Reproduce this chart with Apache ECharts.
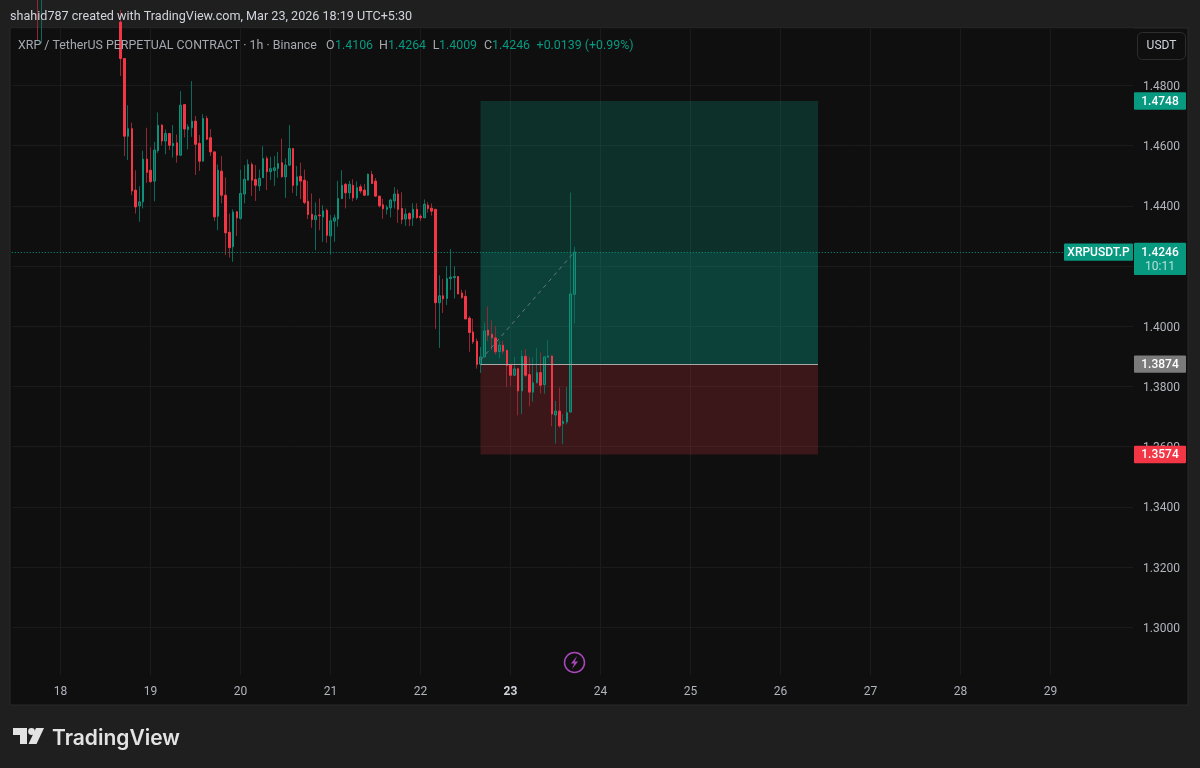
<!DOCTYPE html>
<html>
<head>
<meta charset="utf-8">
<title>XRPUSDT.P</title>
<script src="https://cdn.jsdelivr.net/npm/echarts@6/dist/echarts.min.js"></script>
<style>
  html, body { margin: 0; padding: 0; background: #1f1f1f; }
  #chart { width: 1200px; height: 768px; }
</style>
</head>
<body>
<div id="chart"></div>
<script>
// hourly candles, first two only poke in from above the visible range
var opens = [1.5100, 1.5050,
  null, null, null, null, null, null, null, null, null, null, null, null, null, null, null, null, null, null, null, null,
  1.5010, 1.4889, 1.4631, 1.4656, 1.4452, 1.4400, 1.4413, 1.4555, 1.4518, 1.4482, 1.4583, 1.4668, 1.4615, 1.4640, 1.4599, 1.4609,
  1.4568, 1.4736, 1.4653, 1.4659, 1.4681, 1.4607, 1.4548, 1.4690, 1.4626, 1.4579, 1.4365, 1.4515, 1.4435, 1.4312, 1.4264, 1.4380,
  1.4358, 1.4439, 1.4485, 1.4537, 1.4487, 1.4466, 1.4493, 1.4557, 1.4513, 1.4517, 1.4524, 1.4543, 1.4496, 1.4535, 1.4590, 1.4468,
  1.4498, 1.4485, 1.4415, 1.4372, 1.4354, 1.4369, 1.4363, 1.4385, 1.4300, 1.4349, 1.4356, 1.4424, 1.4471, 1.4443, 1.4468, 1.4426,
  1.4463, 1.4452, 1.4435, 1.4504, 1.4482, 1.4432, 1.4403, 1.4388, 1.4393, 1.4416, 1.4439, 1.4391, 1.4356, 1.4374, 1.4360, 1.4388,
  1.4365, 1.4360, 1.4402, 1.4392, 1.4388, 1.4078, 1.4101, 1.4092, 1.4158, 1.4161, 1.4165, 1.4110, 1.4099, 1.4027, 1.3981, 1.3950,
  1.3874, 1.3898, 1.3987, 1.3973, 1.3961, 1.3916, 1.3937, 1.3920, 1.3873, 1.3837, 1.3859, 1.3785, 1.3900, 1.3839, 1.3781, 1.3812,
  1.3846, 1.3806, 1.3897, 1.3901, 1.3705, 1.3718, 1.3676, 1.3682, 1.3715, 1.4106];
var closes = [1.5050, 1.5110,
  null, null, null, null, null, null, null, null, null, null, null, null, null, null, null, null, null, null, null, null,
  1.4889, 1.4631, 1.4656, 1.4449, 1.4396, 1.4413, 1.4555, 1.4511, 1.4480, 1.4585, 1.4667, 1.4615, 1.4640, 1.4601, 1.4607, 1.4568,
  1.4734, 1.4655, 1.4662, 1.4681, 1.4604, 1.4548, 1.4690, 1.4621, 1.4579, 1.4363, 1.4518, 1.4435, 1.4310, 1.4261, 1.4379, 1.4360,
  1.4441, 1.4488, 1.4537, 1.4485, 1.4468, 1.4491, 1.4557, 1.4513, 1.4523, 1.4526, 1.4540, 1.4496, 1.4535, 1.4590, 1.4468, 1.4496,
  1.4482, 1.4411, 1.4371, 1.4354, 1.4367, 1.4367, 1.4383, 1.4302, 1.4350, 1.4360, 1.4424, 1.4468, 1.4443, 1.4471, 1.4426, 1.4460,
  1.4449, 1.4435, 1.4505, 1.4474, 1.4432, 1.4400, 1.4390, 1.4394, 1.4419, 1.4439, 1.4388, 1.4354, 1.4372, 1.4356, 1.4388, 1.4361,
  1.4360, 1.4405, 1.4391, 1.4382, 1.4078, 1.4101, 1.4091, 1.4158, 1.4163, 1.4165, 1.4107, 1.4095, 1.4024, 1.3979, 1.3948, 1.3873,
  1.3898, 1.3984, 1.3970, 1.3961, 1.3915, 1.3937, 1.3917, 1.3870, 1.3837, 1.3858, 1.3785, 1.3900, 1.3837, 1.3781, 1.3812, 1.3846,
  1.3804, 1.3898, 1.3901, 1.3708, 1.3718, 1.3669, 1.3684, 1.3713, 1.4107, 1.4246];
var lows = [1.4950, 1.4940,
  null, null, null, null, null, null, null, null, null, null, null, null, null, null, null, null, null, null, null, null,
  1.4831, 1.4565, 1.4552, 1.4435, 1.4374, 1.4347, 1.4391, 1.4476, 1.4476, 1.4415, 1.4576, 1.4601, 1.4571, 1.4585, 1.4560, 1.4543,
  1.4565, 1.4627, 1.4587, 1.4629, 1.4502, 1.4516, 1.4548, 1.4618, 1.4565, 1.4349, 1.4319, 1.4408, 1.4236, 1.4228, 1.4214, 1.4300,
  1.4354, 1.4408, 1.4485, 1.4433, 1.4416, 1.4449, 1.4493, 1.4452, 1.4485, 1.4466, 1.4493, 1.4494, 1.4426, 1.4532, 1.4443, 1.4432,
  1.4422, 1.4405, 1.4356, 1.4327, 1.4252, 1.4319, 1.4280, 1.4277, 1.4238, 1.4280, 1.4330, 1.4422, 1.4391, 1.4422, 1.4415, 1.4419,
  1.4441, 1.4433, 1.4434, 1.4472, 1.4430, 1.4394, 1.4357, 1.4371, 1.4361, 1.4391, 1.4343, 1.4339, 1.4333, 1.4332, 1.4333, 1.4356,
  1.4349, 1.4360, 1.4377, 1.4367, 1.3991, 1.3928, 1.4044, 1.4070, 1.4120, 1.4092, 1.4106, 1.4091, 1.4023, 1.3915, 1.3941, 1.3859,
  1.3845, 1.3896, 1.3951, 1.3920, 1.3905, 1.3894, 1.3907, 1.3798, 1.3801, 1.3837, 1.3704, 1.3708, 1.3832, 1.3734, 1.3749, 1.3810,
  1.3777, 1.3776, 1.3897, 1.3668, 1.3610, 1.3663, 1.3608, 1.3674, 1.3713, 1.4009];
var highs = [1.5120, 1.5130,
  null, null, null, null, null, null, null, null, null, null, null, null, null, null, null, null, null, null, null, null,
  1.5050, 1.4889, 1.4734, 1.4676, 1.4518, 1.4465, 1.4583, 1.4659, 1.4594, 1.4612, 1.4710, 1.4671, 1.4653, 1.4642, 1.4668, 1.4637,
  1.4781, 1.4737, 1.4671, 1.4814, 1.4698, 1.4635, 1.4704, 1.4699, 1.4655, 1.4579, 1.4537, 1.4565, 1.4494, 1.4374, 1.4388, 1.4382,
  1.4520, 1.4535, 1.4554, 1.4544, 1.4535, 1.4520, 1.4598, 1.4565, 1.4563, 1.4565, 1.4579, 1.4623, 1.4557, 1.4668, 1.4590, 1.4532,
  1.4543, 1.4520, 1.4482, 1.4441, 1.4411, 1.4424, 1.4402, 1.4391, 1.4369, 1.4371, 1.4483, 1.4518, 1.4476, 1.4483, 1.4488, 1.4481,
  1.4471, 1.4472, 1.4507, 1.4516, 1.4492, 1.4432, 1.4423, 1.4402, 1.4423, 1.4462, 1.4454, 1.4445, 1.4391, 1.4379, 1.4408, 1.4408,
  1.4372, 1.4421, 1.4412, 1.4408, 1.4390, 1.4169, 1.4157, 1.4200, 1.4256, 1.4199, 1.4166, 1.4121, 1.4120, 1.4033, 1.4025, 1.3959,
  1.3931, 1.4012, 1.4066, 1.4020, 1.4001, 1.3951, 1.3952, 1.3921, 1.3873, 1.3898, 1.3859, 1.3920, 1.3924, 1.3898, 1.3896, 1.3927,
  1.3913, 1.3900, 1.3953, 1.3904, 1.3752, 1.3796, 1.3708, 1.3798, 1.4444, 1.4264];

var priceTicks = [1.30, 1.32, 1.34, 1.36, 1.38, 1.40, 1.42, 1.44, 1.46, 1.48];
var firstCandleSlot = 7;

// long position tool
var targetPrice = 1.4748;
var entryPrice = 1.3874;
var stopPrice = 1.3574;
var lastPrice = 1.4246;
var positionStart = '22 16:00';
var positionEnd = '26 10:00';
var pathStartPrice = 1.3887;
var pathEnd = '23 17:00';

// one slot per hour, 18 00:00 sits at slot 13
var categories = [];
for (var i = 0; i < 300; i++) {
    var h = i - 13;
    var hour = ((h % 24) + 24) % 24;
    categories.push((18 + Math.floor(h / 24)) + ' ' + (hour < 10 ? '0' : '') + hour + ':00');
}

var wickData = [], bodyData = [];
for (var i = 0; i < 300; i++) {
    var k = i - firstCandleSlot;
    if (k < 0 || k >= opens.length || opens[k] === null) {
        wickData.push('-');
        bodyData.push('-');
    } else {
        wickData.push([opens[k], closes[k], lows[k], highs[k]]);
        bodyData.push([opens[k], closes[k], Math.min(opens[k], closes[k]), Math.max(opens[k], closes[k])]);
    }
}

var FONT = 'Roboto, sans-serif';
var GREY = '#b2b5be';
var TEAL = '#089981';
var RED = '#f23645';

function isDayStart(index, value) {
    return value.indexOf(' 00:00') > 0;
}

var chart = echarts.init(document.getElementById('chart'));

var option = {
    animation: false,
    backgroundColor: '#1f1f1f',
    textStyle: { fontFamily: FONT },
    grid: {
        left: 11.75,
        top: 28.3,
        width: 1121.25,
        height: 647,
        show: true,
        borderWidth: 0,
        backgroundColor: '#0f0f0f'
    },
    xAxis: {
        type: 'category',
        data: categories,
        boundaryGap: false,
        axisLine: { show: false },
        axisTick: { show: false },
        axisLabel: {
            interval: isDayStart,
            margin: 11,
            fontSize: 12,
            fontFamily: FONT,
            color: GREY,
            formatter: function (value) {
                var day = value.split(' ')[0];
                return day === '23' ? '{bold|' + day + '}' : day;
            },
            rich: { bold: { fontSize: 12, fontFamily: FONT, fontWeight: 'bold', color: '#d1d4dc' } }
        },
        splitLine: { show: true, interval: isDayStart, lineStyle: { color: '#1b1b1b', width: 1 } }
    },
    yAxis: {
        type: 'value',
        position: 'right',
        min: 1.28405,
        max: 1.49894,
        axisLine: { show: false },
        axisTick: { show: false, customValues: priceTicks },
        axisLabel: {
            customValues: priceTicks,
            margin: 10,
            fontSize: 12,
            fontFamily: FONT,
            color: GREY,
            verticalAlign: 'top', // sits a touch under the grid line
            lineHeight: 3,
            formatter: function (v) { return v.toFixed(4); }
        },
        splitLine: { show: true, lineStyle: { color: '#1b1b1b', width: 1 } }
    },
    series: [
        {
            name: 'wicks',
            type: 'candlestick',
            barWidth: 1,
            z: 2,
            data: wickData,
            itemStyle: { color: '#0a6b5c', color0: '#8f2a35', borderColor: '#0a6b5c', borderColor0: '#8f2a35', borderColorDoji: '#0a6b5c', borderWidth: 1 },
            markArea: {
                silent: true,
                label: { show: false },
                data: [
                    [{ xAxis: positionStart, yAxis: lastPrice, itemStyle: { color: 'rgba(8,153,129,0.24)' } }, { xAxis: positionEnd, yAxis: targetPrice }],
                    [{ xAxis: positionStart, yAxis: entryPrice, itemStyle: { color: 'rgba(8,153,129,0.37)' } }, { xAxis: positionEnd, yAxis: lastPrice }],
                    [{ xAxis: positionStart, yAxis: stopPrice, itemStyle: { color: 'rgba(242,54,69,0.2)' } }, { xAxis: positionEnd, yAxis: entryPrice }]
                ]
            },
            markLine: {
                silent: true,
                symbol: 'none',
                precision: 4,
                label: { show: false },
                animation: false,
                data: [
                    { yAxis: lastPrice, lineStyle: { color: TEAL, type: [1, 2], width: 1 } },
                    [{ xAxis: positionStart, yAxis: entryPrice, lineStyle: { color: '#a8a8a8', type: 'solid', width: 1 } }, { xAxis: positionEnd, yAxis: entryPrice }],
                    [{ xAxis: positionStart, yAxis: pathStartPrice, lineStyle: { color: '#66777a', type: [4, 4], width: 1 } }, { xAxis: pathEnd, yAxis: lastPrice }]
                ]
            }
        },
        {
            name: 'bodies',
            type: 'candlestick',
            barWidth: 2,
            z: 3,
            data: bodyData,
            itemStyle: { color: '#0e5f52', color0: RED, borderColor: '#0f9079', borderColor0: RED, borderColorDoji: '#0f9079', borderWidth: 1 }
        }
    ]
};
chart.setOption(option);

// tag on the price scale, follows the y axis
function priceTag(price, color, text) {
    var y = chart.convertToPixel({ yAxisIndex: 0 }, price);
    return [
        { type: 'rect', z: 20, shape: { x: 1134, y: y - 8.7, width: 52, height: 17.4, r: 1 }, style: { fill: color } },
        { type: 'text', z: 21, style: { x: 1160, y: y + 1, text: text, fill: '#fff', font: '500 12px ' + FONT, align: 'center', verticalAlign: 'middle' } }
    ];
}

var lastY = chart.convertToPixel({ yAxisIndex: 0 }, lastPrice);

function legendText(x, text, color) {
    return { type: 'text', z: 21, style: { x: x, y: 46, text: text, fill: color, font: '12.4px ' + FONT, verticalAlign: 'middle' } };
}

var graphics = [
    // chart panel around the plot
    { type: 'rect', z: -1, silent: true, shape: { x: 10, y: 28, width: 1178, height: 677 }, style: { fill: '#0f0f0f', stroke: '#2b2b2b', lineWidth: 1 } },
    { type: 'text', z: 21, style: { x: 10, y: 16.5, text: 'shahid787 created with TradingView.com, Mar 23, 2026 18:19 UTC+5:30', fill: '#d1d4dc', font: '12.6px ' + FONT, verticalAlign: 'middle' } },

    legendText(18, 'XRP / TetherUS PERPETUAL CONTRACT · 1h · Binance', '#a5a8b0'),
    legendText(326, 'O', '#a5a8b0'), legendText(335, '1.4106', TEAL),
    legendText(379, 'H', '#a5a8b0'), legendText(388, '1.4264', TEAL),
    legendText(432.7, 'L', '#a5a8b0'), legendText(439, '1.4009', TEAL),
    legendText(484, 'C', '#a5a8b0'), legendText(492, '1.4246', TEAL),
    legendText(536.6, '+0.0139 (+0.99%)', TEAL),

    // currency button
    { type: 'rect', z: 20, shape: { x: 1137.5, y: 32.5, width: 48, height: 27, r: 5 }, style: { fill: '#0f0f0f', stroke: '#2e2e2e', lineWidth: 1 } },
    { type: 'text', z: 21, style: { x: 1161.5, y: 46, text: 'USDT', fill: '#d1d4dc', font: '12px ' + FONT, align: 'center', verticalAlign: 'middle' } },

    // current price, symbol and countdown
    { type: 'rect', z: 20, shape: { x: 1064, y: lastY - 8.7, width: 69, height: 17.4, r: 1 }, style: { fill: TEAL } },
    { type: 'text', z: 21, style: { x: 1098.5, y: lastY + 1, text: 'XRPUSDT.P', fill: '#fff', font: '500 12px ' + FONT, align: 'center', verticalAlign: 'middle' } },
    { type: 'rect', z: 20, shape: { x: 1134, y: lastY - 9.5, width: 52, height: 32.4, r: 1 }, style: { fill: TEAL } },
    { type: 'text', z: 21, style: { x: 1160, y: lastY + 1, text: lastPrice.toFixed(4), fill: '#fff', font: '500 12px ' + FONT, align: 'center', verticalAlign: 'middle' } },
    { type: 'text', z: 21, style: { x: 1160, y: lastY + 15, text: '10:11', fill: '#b5e0d8', font: '12px ' + FONT, align: 'center', verticalAlign: 'middle' } },

    // bolt marker
    { type: 'circle', z: 20, shape: { cx: 574.5, cy: 662.5, r: 10 }, style: { fill: 'none', stroke: '#ab47bc', lineWidth: 1.5 } },
    { type: 'polygon', z: 20, shape: { points: [[577, 656], [571, 663.5], [574.2, 663.5], [572, 669], [578, 661.5], [574.8, 661.5]] }, style: { fill: '#ab47bc' } },

    // logo
    { type: 'polygon', z: 20, shape: { points: [[13, 728], [27, 728], [27, 744], [20, 744], [20, 735], [13, 735]] }, style: { fill: '#e3e3e3' } },
    { type: 'circle', z: 20, shape: { cx: 31.5, cy: 731.5, r: 3.4 }, style: { fill: '#e3e3e3' } },
    { type: 'polygon', z: 20, shape: { points: [[36, 728], [44, 728], [36.5, 744], [28.5, 744]] }, style: { fill: '#e3e3e3' } },
    { type: 'text', z: 21, style: { x: 52, y: 738.5, text: 'TradingView', fill: '#e3e3e3', font: '600 21px Inter, ' + FONT, verticalAlign: 'middle' } }
];
graphics = graphics
    .concat(priceTag(targetPrice, TEAL, targetPrice.toFixed(4)))
    .concat(priceTag(entryPrice, '#7b7b7b', entryPrice.toFixed(4)))
    .concat(priceTag(stopPrice, RED, stopPrice.toFixed(4)));

chart.setOption({ graphic: { elements: graphics } });
</script>
</body>
</html>
